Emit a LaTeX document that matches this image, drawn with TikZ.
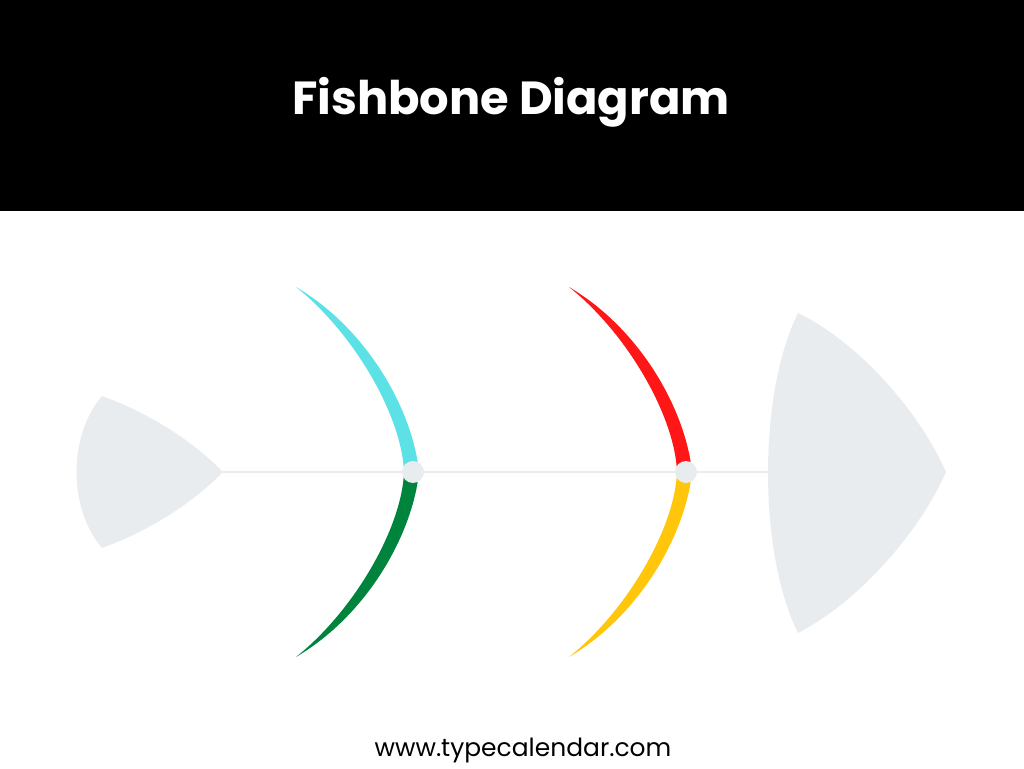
\documentclass[tikz,border=0pt]{standalone}
\usepackage{fontspec}
\setmainfont{Poppins}
\definecolor{bonegray}{HTML}{E9ECEF}
\definecolor{bonecyan}{HTML}{5CE1E6}
\definecolor{bonegreen}{HTML}{00843D}
\definecolor{bonered}{HTML}{FF1616}
\definecolor{boneyellow}{HTML}{FFC60B}
\tikzset{
  joint/.style={circle, fill=bonegray, inner sep=0pt, minimum size=0.44cm},
  spine/.style={draw=bonegray, line width=1.2pt}
}
\begin{document}
\begin{tikzpicture}[x=0.02cm, y=0.02cm]
\useasboundingbox (0,0) rectangle (1024,768);
\fill[color=black] (0,557) rectangle (1024,768);
\node[anchor=base, text=white] (title) at (511,653) {\fontsize{26.4}{30}\selectfont\bfseries Fishbone Diagram};

\coordinate (tail) at (223,296);
\coordinate (head) at (768,296);
\draw[spine] (tail) -- (head);

% tail and head
\fill[color=bonegray] (102,372) .. controls (150,355) and (195,325) .. (223,296)
  .. controls (195,267) and (150,237) .. (102,220)
  .. controls (68,260) and (68,332) .. (102,372) -- cycle;
\fill[color=bonegray] (798,455) .. controls (860,425) and (920,355) .. (946,296)
  .. controls (920,237) and (860,167) .. (798,135)
  .. controls (758,215) and (758,375) .. (798,455) -- cycle;

% bones
\begin{scope}[shift={(413,296)}]
\fill[color=bonecyan] (6,0) .. controls (0,60) and (-44,142) .. (-117,185)
  .. controls (-58,138) and (-11,55) .. (-9,0) -- cycle;
\fill[color=bonegreen] (6,0) .. controls (0,-60) and (-44,-142) .. (-117,-185)
  .. controls (-58,-138) and (-11,-55) .. (-9,0) -- cycle;
\end{scope}
\begin{scope}[shift={(686,296)}]
\fill[color=bonered] (6,0) .. controls (0,60) and (-44,142) .. (-117,185)
  .. controls (-58,138) and (-11,55) .. (-9,0) -- cycle;
\fill[color=boneyellow] (6,0) .. controls (0,-60) and (-44,-142) .. (-117,-185)
  .. controls (-58,-138) and (-11,-55) .. (-9,0) -- cycle;
\end{scope}

\node[joint] (causeA) at (413,296) {};
\node[joint] (causeB) at (686,296) {};

\node[anchor=base] (site) at (523,12) {\fontsize{14.2}{16}\selectfont www.typecalendar.com};
\end{tikzpicture}
\end{document}
